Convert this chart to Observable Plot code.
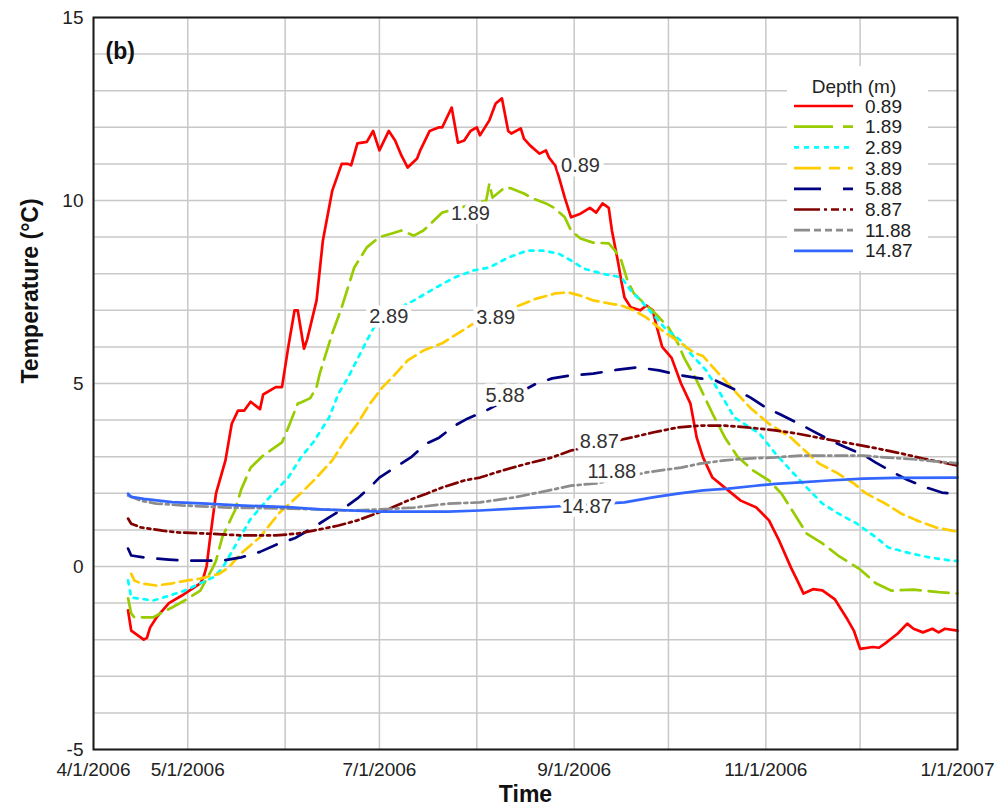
<!DOCTYPE html>
<html>
<head>
<meta charset="utf-8">
<script src="https://cdn.jsdelivr.net/npm/d3@7"></script>
<script src="https://cdn.jsdelivr.net/npm/@observablehq/plot@0.6"></script>
<style>
  body { margin: 0; background: #fff; }
  #chart { position: relative; width: 1002px; height: 810px; }
  #legend { position: absolute; left: 787px; top: 66px; }
</style>
</head>
<body>
<div id="chart"></div>
<script>
// Water temperature at eight depths, April 2006 – January 2007
const depths = ["0.89", "1.89", "2.89", "3.89", "5.88", "8.87", "11.88", "14.87"];

const d089 = [["2006-04-12",-1.2],["2006-04-13",-1.75],["2006-04-17",-2.0],["2006-04-18",-1.95],["2006-04-19",-1.67],["2006-04-21",-1.4],["2006-04-25",-1.0],["2006-04-29",-0.8],["2006-05-05",-0.46],["2006-05-06",-0.3],["2006-05-07",0.0],["2006-05-08",0.7],["2006-05-10",2.0],["2006-05-13",2.9],["2006-05-15",3.9],["2006-05-17",4.26],["2006-05-19",4.26],["2006-05-21",4.5],["2006-05-24",4.3],["2006-05-25",4.7],["2006-05-29",4.9],["2006-05-31",4.9],["2006-06-02",6.0],["2006-06-04",7.0],["2006-06-05",7.0],["2006-06-07",5.95],["2006-06-08",6.2],["2006-06-11",7.27],["2006-06-13",8.9],["2006-06-16",10.27],["2006-06-19",11.0],["2006-06-21",11.0],["2006-06-22",10.96],["2006-06-24",11.56],["2006-06-27",11.6],["2006-06-29",11.9],["2006-07-01",11.37],["2006-07-04",11.9],["2006-07-06",11.64],["2006-07-08",11.23],["2006-07-10",10.9],["2006-07-13",11.15],["2006-07-14",11.37],["2006-07-17",11.9],["2006-07-20",12.0],["2006-07-21",12.0],["2006-07-24",12.54],["2006-07-26",11.58],["2006-07-28",11.64],["2006-07-30",11.9],["2006-08-01",12.0],["2006-08-02",11.78],["2006-08-05",12.19],["2006-08-07",12.65],["2006-08-09",12.79],["2006-08-11",11.9],["2006-08-12",11.83],["2006-08-15",11.97],["2006-08-16",11.69],["2006-08-18",11.5],["2006-08-21",11.28],["2006-08-23",11.37],["2006-08-24",11.17],["2006-08-26",10.95],["2006-08-27",10.68],["2006-08-29",10.08],["2006-08-31",9.54],["2006-09-03",9.64],["2006-09-06",9.8],["2006-09-08",9.67],["2006-09-10",9.92],["2006-09-12",9.8],["2006-09-13",9.18],["2006-09-15",8.3],["2006-09-16",7.8],["2006-09-17",7.35],["2006-09-19",7.08],["2006-09-22",7.0],["2006-09-24",7.13],["2006-09-26",7.0],["2006-09-27",6.64],["2006-09-29",6.0],["2006-10-02",5.7],["2006-10-05",5.0],["2006-10-08",4.45],["2006-10-10",3.52],["2006-10-12",2.98],["2006-10-15",2.43],["2006-10-20",2.08],["2006-10-24",1.8],["2006-10-29",1.61],["2006-11-02",1.26],["2006-11-05",0.75],["2006-11-09",-0.03],["2006-11-11",-0.38],["2006-11-13",-0.74],["2006-11-16",-0.62],["2006-11-19",-0.65],["2006-11-23",-0.9],["2006-11-27",-1.45],["2006-11-29",-1.75],["2006-12-01",-2.25],["2006-12-05",-2.2],["2006-12-07",-2.22],["2006-12-09",-2.1],["2006-12-13",-1.83],["2006-12-16",-1.56],["2006-12-18",-1.7],["2006-12-21",-1.8],["2006-12-24",-1.7],["2006-12-26",-1.8],["2006-12-28",-1.7],["2007-01-01",-1.75]];

const d189 = [["2006-04-12",-0.87],["2006-04-13",-1.28],["2006-04-14",-1.39],["2006-04-17",-1.39],["2006-04-20",-1.39],["2006-04-23",-1.25],["2006-04-26",-1.12],["2006-04-30",-0.93],["2006-05-05",-0.66],["2006-05-09",-0.03],["2006-05-10",0.16],["2006-05-12",0.8],["2006-05-14",1.17],["2006-05-16",1.53],["2006-05-18",2.1],["2006-05-21",2.7],["2006-05-25",3.03],["2006-05-31",3.39],["2006-06-02",3.8],["2006-06-05",4.45],["2006-06-06",4.48],["2006-06-09",4.6],["2006-06-11",4.9],["2006-06-12",5.27],["2006-06-16",6.37],["2006-06-19",7.08],["2006-06-23",8.17],["2006-06-27",8.72],["2006-07-01",9.0],["2006-07-05",9.1],["2006-07-08",9.18],["2006-07-12",9.04],["2006-07-15",9.18],["2006-07-21",9.67],["2006-08-04",10.0],["2006-08-05",10.46],["2006-08-06",10.08],["2006-08-10",10.36],["2006-08-12",10.33],["2006-08-16",10.19],["2006-08-19",10.05],["2006-08-23",9.92],["2006-08-26",9.78],["2006-08-29",9.54],["2006-08-31",9.18],["2006-09-03",8.96],["2006-09-07",8.85],["2006-09-12",8.83],["2006-09-14",8.63],["2006-09-16",8.36],["2006-09-18",7.8],["2006-09-20",7.46],["2006-09-24",7.13],["2006-09-27",6.9],["2006-10-01",6.53],["2006-10-04",6.1],["2006-10-06",5.7],["2006-10-10",5.08],["2006-10-15",4.18],["2006-10-19",3.52],["2006-10-23",3.0],["2006-10-28",2.62],["2006-11-02",2.35],["2006-11-06",1.99],["2006-11-10",1.45],["2006-11-14",0.9],["2006-11-19",0.63],["2006-11-24",0.3],["2006-12-01",-0.08],["2006-12-06",-0.46],["2006-12-11",-0.66],["2006-12-18",-0.63],["2006-12-26",-0.7],["2007-01-01",-0.74]];

const d289 = [["2006-04-12",-0.38],["2006-04-13",-0.85],["2006-04-15",-0.87],["2006-04-20",-0.93],["2006-04-25",-0.8],["2006-04-30",-0.66],["2006-05-05",-0.46],["2006-05-09",-0.3],["2006-05-12",-0.05],["2006-05-16",0.55],["2006-05-21",1.3],["2006-05-27",1.89],["2006-06-02",2.43],["2006-06-06",2.98],["2006-06-10",3.4],["2006-06-15",4.07],["2006-06-18",4.73],["2006-06-21",5.16],["2006-06-27",6.17],["2006-07-01",6.8],["2006-07-12",7.27],["2006-07-19",7.62],["2006-07-25",7.9],["2006-07-31",8.09],["2006-08-05",8.17],["2006-08-11",8.44],["2006-08-17",8.63],["2006-08-22",8.63],["2006-08-27",8.55],["2006-08-31",8.36],["2006-09-04",8.14],["2006-09-10",8.0],["2006-09-16",7.9],["2006-09-19",7.54],["2006-09-23",7.19],["2006-09-27",6.8],["2006-09-30",6.5],["2006-10-05",6.17],["2006-10-08",5.82],["2006-10-13",5.36],["2006-10-17",4.8],["2006-10-22",4.07],["2006-10-30",3.63],["2006-11-04",3.09],["2006-11-09",2.62],["2006-11-14",2.16],["2006-11-19",1.72],["2006-11-24",1.45],["2006-11-30",1.17],["2006-12-06",0.8],["2006-12-10",0.52],["2006-12-17",0.36],["2006-12-23",0.25],["2006-12-30",0.16],["2007-01-01",0.15]];

const d389 = [["2006-04-13",-0.2],["2006-04-14",-0.38],["2006-04-16",-0.46],["2006-04-21",-0.52],["2006-04-26",-0.46],["2006-05-01",-0.38],["2006-05-05",-0.33],["2006-05-11",-0.2],["2006-05-14",-0.03],["2006-05-18",0.36],["2006-05-24",0.8],["2006-05-30",1.45],["2006-06-06",2.0],["2006-06-11",2.43],["2006-06-16",2.9],["2006-06-20",3.44],["2006-06-24",3.9],["2006-06-28",4.45],["2006-07-02",4.9],["2006-07-05",5.16],["2006-07-10",5.63],["2006-07-15",5.9],["2006-07-21",6.1],["2006-07-26",6.37],["2006-07-31",6.64],["2006-08-13",7.08],["2006-08-20",7.32],["2006-08-26",7.46],["2006-08-30",7.49],["2006-09-03",7.4],["2006-09-07",7.27],["2006-09-12",7.19],["2006-09-16",7.13],["2006-09-20",7.0],["2006-09-24",6.8],["2006-09-29",6.45],["2006-10-05",6.1],["2006-10-09",5.85],["2006-10-12",5.75],["2006-10-17",5.27],["2006-10-22",4.8],["2006-10-27",4.34],["2006-11-02",3.9],["2006-11-09",3.52],["2006-11-13",3.2],["2006-11-18",2.81],["2006-11-24",2.54],["2006-11-29",2.27],["2006-12-03",1.99],["2006-12-09",1.72],["2006-12-14",1.45],["2006-12-19",1.26],["2006-12-25",1.07],["2007-01-01",0.95]];

const d588 = [["2006-04-12",0.49],["2006-04-13",0.3],["2006-04-17",0.25],["2006-04-25",0.19],["2006-04-30",0.16],["2006-05-07",0.16],["2006-05-12",0.16],["2006-05-18",0.25],["2006-05-24",0.4],["2006-05-30",0.63],["2006-06-04",0.77],["2006-06-10",1.07],["2006-06-15",1.34],["2006-06-20",1.61],["2006-06-24",1.86],["2006-06-28",2.16],["2006-07-01",2.43],["2006-07-07",2.76],["2006-07-11",2.98],["2006-07-16",3.36],["2006-07-20",3.52],["2006-07-25",3.85],["2006-07-29",4.04],["2006-08-04",4.26],["2006-08-20",5.0],["2006-08-25",5.14],["2006-08-31",5.22],["2006-09-07",5.27],["2006-09-15",5.38],["2006-09-21",5.44],["2006-09-28",5.36],["2006-10-05",5.22],["2006-10-11",5.14],["2006-10-16",5.08],["2006-10-23",4.8],["2006-10-27",4.62],["2006-11-01",4.34],["2006-11-05",4.18],["2006-11-12",3.88],["2006-11-16",3.7],["2006-11-21",3.47],["2006-11-26",3.27],["2006-12-02",3.05],["2006-12-06",2.84],["2006-12-12",2.55],["2006-12-16",2.37],["2006-12-22",2.16],["2006-12-27",2.02],["2007-01-01",1.98]];

const d887 = [["2006-04-12",1.31],["2006-04-13",1.17],["2006-04-16",1.07],["2006-04-23",0.98],["2006-04-28",0.93],["2006-05-07",0.9],["2006-05-18",0.85],["2006-05-29",0.85],["2006-06-05",0.9],["2006-06-10",0.98],["2006-06-18",1.12],["2006-06-24",1.26],["2006-06-30",1.45],["2006-07-05",1.61],["2006-07-10",1.8],["2006-07-16",1.99],["2006-07-21",2.16],["2006-07-28",2.35],["2006-08-02",2.43],["2006-08-09",2.62],["2006-08-17",2.81],["2006-08-25",2.98],["2006-08-31",3.17],["2006-09-19",3.52],["2006-09-26",3.66],["2006-10-04",3.8],["2006-10-11",3.85],["2006-10-19",3.85],["2006-10-26",3.8],["2006-11-04",3.72],["2006-11-11",3.63],["2006-11-19",3.5],["2006-11-26",3.39],["2006-12-05",3.25],["2006-12-14",3.09],["2006-12-21",2.95],["2007-01-01",2.76]];

const d1188 = [["2006-04-12",1.94],["2006-04-16",1.8],["2006-04-21",1.72],["2006-04-29",1.67],["2006-05-14",1.61],["2006-06-03",1.58],["2006-06-13",1.56],["2006-06-22",1.53],["2006-07-01",1.56],["2006-07-12",1.61],["2006-07-23",1.72],["2006-08-02",1.75],["2006-08-13",1.89],["2006-08-24",2.08],["2006-08-31",2.21],["2006-09-08",2.27],["2006-09-24",2.57],["2006-09-28",2.62],["2006-10-05",2.7],["2006-10-11",2.81],["2006-10-19",2.9],["2006-10-26",2.95],["2006-11-04",2.98],["2006-11-12",3.03],["2006-11-21",3.03],["2006-12-02",3.03],["2006-12-09",2.98],["2006-12-18",2.93],["2006-12-25",2.87],["2007-01-01",2.82]];

const d1487 = [["2006-04-12",1.99],["2006-04-13",1.9],["2006-04-17",1.85],["2006-04-26",1.76],["2006-05-07",1.72],["2006-05-17",1.67],["2006-06-02",1.62],["2006-06-12",1.56],["2006-06-22",1.53],["2006-07-01",1.5],["2006-07-23",1.5],["2006-08-02",1.53],["2006-08-13",1.58],["2006-08-26",1.64],["2006-09-17",1.75],["2006-09-26",1.89],["2006-10-04",1.99],["2006-10-12",2.08],["2006-10-20",2.13],["2006-10-28",2.2],["2006-11-04",2.26],["2006-11-12",2.3],["2006-11-21",2.35],["2006-12-02",2.4],["2006-12-12",2.42],["2007-01-01",2.43]];

// In-line depth labels (date, temperature)
const labelDates = ["2006-09-03", "2006-07-30", "2006-07-04", "2006-08-07", "2006-08-10", "2006-09-09", "2006-09-13", "2006-09-05"];
const labelTemps = [10.96, 9.64, 6.83, 6.8, 4.67, 3.42, 2.6, 1.64];

// Axis ticks
const xTickDates = ["2006-04-01", "2006-05-01", "2006-07-01", "2006-09-01", "2006-11-01", "2007-01-01"];
const yTicks = [-5, 0, 5, 10, 15];

// Series styling
const colors = ["#ff0000", "#99cc00", "#00ffff", "#ffcc00", "#000080", "#800000", "#8c8c8c", "#3366ff"];
const dashes = [null, "20,8", "4,6", "12,6", "20,14", "12,4,3,4,3,4", "12,4,3,4", null];
const legendDashes = [null, "39,10,10", "5,5", "27,8,11,8", "27,22,10", "26,4,3,4,8,4,3,4", "16,4,7,4,7,4,7,4", null];

const seriesValues = [d089, d189, d289, d389, d588, d887, d1188, d1487];
const parse = s => new Date(s + "T00:00:00Z");

const series = depths.map((depth, i) => ({
  depth,
  color: colors[i],
  dash: dashes[i],
  rows: seriesValues[i].map(([date, temp]) => ({date: parse(date), temp}))
}));

const labels = depths.map((depth, i) => ({depth, date: parse(labelDates[i]), temp: labelTemps[i]}));

const xStart = parse("2006-04-01");
const xEnd = parse("2007-01-01");

const font = "'Liberation Sans', Arial, sans-serif";

const chart = Plot.plot({
  width: 1002,
  height: 810,
  marginTop: 17,
  marginBottom: 61,
  marginLeft: 93,
  marginRight: 45,
  x: {type: "utc", domain: [xStart, xEnd]},
  y: {domain: [-5, 15]},
  style: {fontFamily: font, fontSize: "19px", color: "#222", background: "white", overflow: "visible"},
  marks: [
    Plot.gridY({ticks: d3.range(-5, 16), stroke: "#c8c8c8", strokeOpacity: 1, strokeWidth: 1.5}),
    Plot.gridX({ticks: d3.utcMonth.range(xStart, d3.utcDay.offset(xEnd, 1)), stroke: "#c8c8c8", strokeOpacity: 1, strokeWidth: 1.5}),
    Plot.axisY({ticks: yTicks, tickSize: 0, tickPadding: 10, tickFormat: d => String(d), label: null, fontSize: 19}),
    Plot.axisX({ticks: xTickDates.map(parse), tickSize: 0, tickPadding: 13, tickFormat: d3.utcFormat("%-m/%-d/%Y"), label: null, fontSize: 19}),
    ...series.map(s => Plot.line(s.rows, {
      x: "date", y: "temp",
      stroke: s.color,
      strokeWidth: 2.7,
      strokeDasharray: s.dash ?? undefined,
      strokeLinejoin: "round"
    })),
    Plot.frame({stroke: "#1a1a1a", strokeWidth: 2}),
    Plot.text(labels, {
      x: "date", y: "temp", text: "depth",
      fill: "#333", stroke: "white", strokeWidth: 9, paintOrder: "stroke",
      fontSize: 20
    }),
    Plot.text(["(b)"], {text: d => d, frameAnchor: "top-left", dx: 12, dy: 25, fontWeight: "bold", fontSize: 23, fill: "#111"}),
    Plot.text(["Temperature (°C)"], {text: d => d, frameAnchor: "left", rotate: -90, dx: -63, fontWeight: "bold", fontSize: 23, fill: "#111"}),
    Plot.text(["Time"], {text: d => d, frameAnchor: "bottom", dy: 52, fontWeight: "bold", fontSize: 23, fill: "#111"})
  ]
});

const container = document.getElementById("chart");
container.appendChild(chart);

// Legend box in the upper right of the plot area
const lw = 141, lh = 205, rowY0 = 40, rowStep = 20.7;
const legend = d3.create("svg")
  .attr("id", "legend")
  .attr("width", lw)
  .attr("height", lh)
  .style("font-family", font);

legend.append("rect").attr("width", lw).attr("height", lh).attr("fill", "white");
legend.append("text")
  .attr("x", 67).attr("y", 20)
  .attr("text-anchor", "middle").attr("dominant-baseline", "central")
  .attr("font-size", 19).attr("fill", "#222")
  .text("Depth (m)");

series.forEach((s, i) => {
  const y = rowY0 + i * rowStep;
  legend.append("line")
    .attr("x1", 7).attr("x2", 66).attr("y1", y).attr("y2", y)
    .attr("stroke", s.color).attr("stroke-width", 2.7)
    .attr("stroke-dasharray", legendDashes[i]);
  legend.append("text")
    .attr("x", 78).attr("y", y)
    .attr("dominant-baseline", "central")
    .attr("font-size", 19).attr("fill", "#222")
    .text(s.depth);
});

container.appendChild(legend.node());
</script>
</body>
</html>
